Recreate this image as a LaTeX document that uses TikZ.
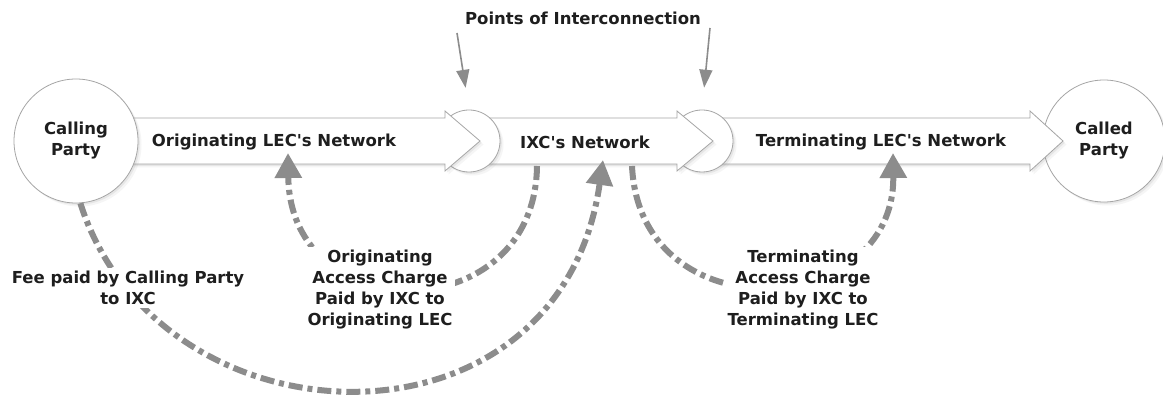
\documentclass[tikz,border=0pt]{standalone}
\usepackage{fontspec}
\setmainfont{DejaVu Sans}[Ligatures=TeXOff]
\usetikzlibrary{arrows.meta,shadows}
\definecolor{edgegray}{RGB}{165,165,165}
\definecolor{dashgray}{RGB}{140,140,140}
\definecolor{txtgray}{RGB}{30,30,30}
\tikzset{
  shapebox/.style={draw=edgegray, line width=0.8pt, fill=white,
    drop shadow={shadow xshift=3.5pt,shadow yshift=-3.5pt,opacity=.08},
    drop shadow={shadow xshift=1.8pt,shadow yshift=-1.8pt,opacity=.12}},
  lbl/.style={font=\bfseries\fontsize{16.5}{21}\selectfont, text=txtgray, align=center, inner sep=2pt},
  paylbl/.style={lbl, fill=white, inner sep=3pt},
  pay/.style={draw=dashgray, line width=6pt, dash pattern=on 14pt off 5pt on 5pt off 5pt,
    -{Triangle[width=26pt,length=25pt]}},
  poiarrow/.style={draw=dashgray, line width=1.6pt, -{Triangle[width=13pt,length=18pt]}},
}
\begin{document}
\begin{tikzpicture}[x=1pt,y=-1pt]
\useasboundingbox (0,0) rectangle (1163,398);
\fill[white] (0,0) rectangle (1163,398);

% Called party and terminating network
\node[shapebox, circle, minimum size=122pt, inner sep=0pt, lbl] (cd) at (1104,141) {Called\\Party};
\path[shapebox] (715,118) -- (1030,118) -- (1030,111) -- (1063,141) -- (1030,171) -- (1030,164) -- (715,164) -- cycle;
% second point of interconnection and IXC network
\node[shapebox, circle, minimum size=62pt, inner sep=0pt] (poiB) at (702,141) {};
\path[shapebox] (485,118) -- (677,118) -- (677,111) -- (713,141) -- (677,171) -- (677,164) -- (485,164) -- cycle;
% first point of interconnection and originating network
\node[shapebox, circle, minimum size=62pt, inner sep=0pt] (poiA) at (469,141) {};
\path[shapebox] (120,118) -- (445,118) -- (445,111) -- (480,141) -- (445,171) -- (445,164) -- (120,164) -- cycle;
% calling party
\node[shapebox, circle, minimum size=124pt, inner sep=0pt, lbl] (cp) at (76,141) {Calling\\Party};

% network labels
\node[lbl] (netO) at (274,142) {Originating LEC's Network};
\node[lbl] (netI) at (585,142) {IXC's Network};
\node[lbl] (netT) at (881,142) {Terminating LEC's Network};

% points of interconnection
\node[lbl] (poi) at (583,18) {Points of Interconnection};
\coordinate (pa1) at (457,33);
\coordinate (pa2) at (710,28);
\draw[poiarrow, shorten >=22pt] (pa1) -- (poiA.north);
\draw[poiarrow, shorten >=22pt] (pa2) -- (poiB.north);

% payment flows
\coordinate (feeEnd) at (603,160);
\coordinate (oacStart) at (537,166);
\coordinate (oacEnd) at (288,153);
\coordinate (tacStart) at (632,166);
\coordinate (tacEnd) at (893,153);
\draw[pay] (cp.-86) .. controls (160,452) and (560,464) .. (feeEnd);
\draw[pay] (oacStart) .. controls (535,330) and (290,330) .. (oacEnd);
\draw[pay] (tacStart) .. controls (640,335) and (895,320) .. (tacEnd);

\node[paylbl] (fee) at (128,288) {Fee paid by Calling Party\\to IXC};
\node[paylbl] (oac) at (380,290) {Originating\\Access Charge\\Paid by IXC to\\Originating LEC};
\node[paylbl] (tac) at (803,290) {Terminating\\Access Charge\\Paid by IXC to\\Terminating LEC};
\end{tikzpicture}
\end{document}
